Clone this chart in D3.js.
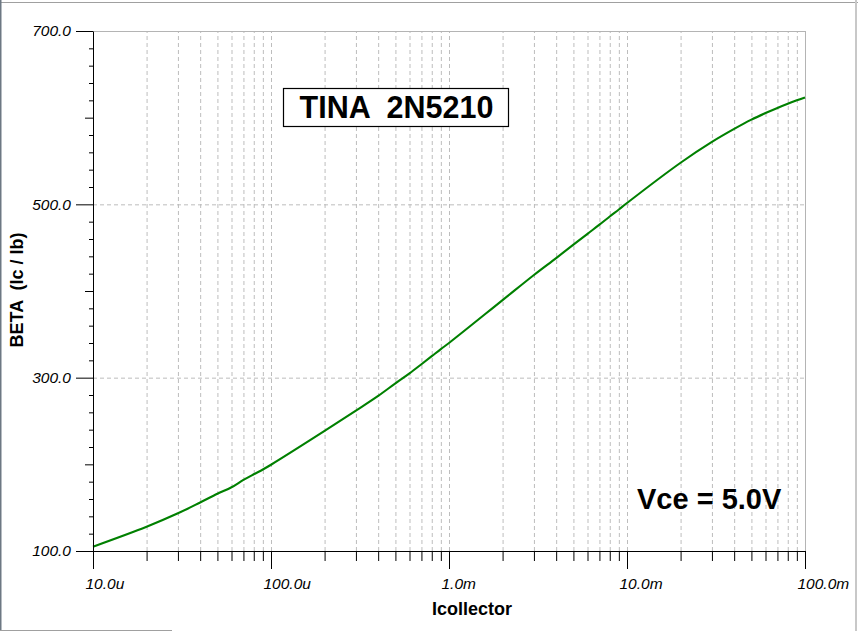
<!DOCTYPE html>
<html>
<head>
<meta charset="utf-8">
<script src="https://cdn.jsdelivr.net/npm/d3@7"></script>
<style>
  html, body { margin: 0; padding: 0; background: #fff; }
  svg { display: block; }
  text { font-family: Arial, "Liberation Sans", sans-serif; }
  .pre { white-space: pre; }
</style>
</head>
<body>
<svg id="chart" width="858" height="631"></svg>
<script>
// ---- data ----
const currents = [10e-6, 20e-6, 30e-6, 40e-6, 50e-6, 60e-6, 70e-6, 80e-6, 90e-6,
                  100e-6, 200e-6, 300e-6, 400e-6, 500e-6, 600e-6, 700e-6, 800e-6, 900e-6,
                  1e-3, 2e-3, 3e-3, 4e-3, 5e-3, 6e-3, 7e-3, 8e-3, 9e-3,
                  10e-3, 20e-3, 30e-3, 40e-3, 50e-3, 60e-3, 70e-3, 80e-3, 90e-3, 100e-3];
const beta = [105, 128, 143.5, 156, 166, 173.5, 182, 188.5, 194,
              199.5, 238.5, 262, 279, 293.5, 305, 315.5, 324.8, 333,
              340, 389.5, 418.5, 438, 453.5, 466, 476.5, 486, 494,
              501.5, 548, 572, 587, 597.7, 605.3, 611.2, 616, 620, 623.4];

const xMajorTicks = [1e-5, 1e-4, 1e-3, 1e-2, 1e-1];
const xTickLabels = ["10.0u", "100.0u", "1.0m", "10.0m", "100.0m"];
const yMajorTicks = [100, 300, 500, 700];
const yTickLabels = ["100.0", "300.0", "500.0", "700.0"];
const yMidTicks = [200, 400, 600];

const titleText = "TINA  2N5210";
const noteText = "Vce = 5.0V";
const xTitle = "Icollector";
const yTitle = "BETA  (Ic / Ib)";

// ---- derived tick sets ----
const xMinorTicks = [];
[1e-5, 1e-4, 1e-3, 1e-2].forEach(d => { for (let k = 2; k <= 9; k++) xMinorTicks.push(d * k); });
const yMinorTicks = d3.range(120, 700, 20).filter(v => !yMajorTicks.includes(v) && !yMidTicks.includes(v));
const xGridTicks = xMinorTicks.concat([1e-4, 1e-3, 1e-2]);
const yGridTicks = [300, 500];

// ---- layout ----
const L = 93, R = 805, T = 31, B = 551;
const svg = d3.select("#chart");

const x = d3.scaleLog().domain([1e-5, 1e-1]).range([L, R]);
const y = d3.scaleLinear().domain([100, 700]).range([B, T]);

// window frame
svg.append("rect").attr("x", 0).attr("y", 0).attr("width", 858).attr("height", 631).attr("fill", "#fff");
svg.append("line").attr("x1", 0).attr("x2", 858).attr("y1", 2.5).attr("y2", 2.5).attr("stroke", "#a0a0a0");
svg.append("line").attr("x1", 0.5).attr("x2", 0.5).attr("y1", 0).attr("y2", 631).attr("stroke", "#6d7883").attr("stroke-width", 2);
svg.append("line").attr("x1", 856).attr("x2", 856).attr("y1", 0).attr("y2", 631).attr("stroke", "#c8c8c8").attr("stroke-width", 2);
svg.append("line").attr("x1", 0).attr("x2", 172).attr("y1", 630.5).attr("y2", 630.5).attr("stroke", "#a0a0a0");

// grid
const gridStyle = g => g.selectAll("line").attr("stroke", "#bdbdbd").attr("stroke-dasharray", "4,3");
svg.append("g").attr("transform", `translate(0,${B})`)
  .call(d3.axisBottom(x).tickValues(xGridTicks).tickSize(-(B - T)).tickFormat(""))
  .call(g => g.select(".domain").remove())
  .call(gridStyle);
svg.append("g").attr("transform", `translate(${L},0)`)
  .call(d3.axisLeft(y).tickValues(yGridTicks).tickSize(-(R - L)).tickFormat(""))
  .call(g => g.select(".domain").remove())
  .call(gridStyle);

// top and right borders
svg.append("line").attr("x1", L).attr("x2", R + 0.5).attr("y1", T + 0.5).attr("y2", T + 0.5).attr("stroke", "#b4b4b4");
svg.append("line").attr("x1", R + 0.5).attr("x2", R + 0.5).attr("y1", T).attr("y2", B).attr("stroke", "#b4b4b4");

// curve
const line = d3.line().x((d, i) => x(currents[i])).y(d => y(d)).curve(d3.curveCatmullRom.alpha(0.5));
svg.append("path").datum(beta).attr("d", line)
  .attr("fill", "none").attr("stroke", "#008000").attr("stroke-width", 2.1);

// x axis
const blackTicks = g => { g.selectAll("line").attr("stroke", "#000"); g.selectAll(".domain").attr("stroke", "#000"); };
svg.append("g").attr("transform", `translate(0,${B})`)
  .call(d3.axisBottom(x).tickValues(xMinorTicks).tickSize(10).tickSizeOuter(0).tickFormat(""))
  .call(g => g.select(".domain").remove())
  .call(blackTicks);
const xAx = svg.append("g").attr("transform", `translate(0,${B})`)
  .call(d3.axisBottom(x).tickValues(xMajorTicks).tickSize(18).tickSizeOuter(0)
        .tickFormat((d, i) => xTickLabels[i]))
  .call(blackTicks);
xAx.selectAll("text")
  .attr("text-anchor", "start").attr("x", -8).attr("y", 38).attr("dy", null)
  .attr("font-size", 15.5).attr("font-style", "italic").attr("fill", "#000");

// y axis
svg.append("g").attr("transform", `translate(${L},0)`)
  .call(d3.axisLeft(y).tickValues(yMinorTicks).tickSize(4).tickSizeOuter(0).tickFormat(""))
  .call(g => g.select(".domain").remove())
  .call(blackTicks);
svg.append("g").attr("transform", `translate(${L},0)`)
  .call(d3.axisLeft(y).tickValues(yMidTicks).tickSize(8).tickSizeOuter(0).tickFormat(""))
  .call(g => g.select(".domain").remove())
  .call(blackTicks);
const yAx = svg.append("g").attr("transform", `translate(${L},0)`)
  .call(d3.axisLeft(y).tickValues(yMajorTicks).tickSize(17).tickSizeOuter(0).tickPadding(5)
        .tickFormat((d, i) => yTickLabels[i]))
  .call(blackTicks);
yAx.selectAll("text")
  .attr("font-size", 15.5).attr("font-style", "italic").attr("fill", "#000");

// axis titles
svg.append("text").attr("x", 472).attr("y", 615).attr("text-anchor", "middle")
  .attr("font-size", 18).attr("font-weight", "bold").attr("fill", "#000").text(xTitle);
svg.append("text").attr("class", "pre").attr("xml:space", "preserve")
  .attr("transform", "translate(23,290) rotate(-90)").attr("text-anchor", "middle")
  .attr("font-size", 18).attr("font-weight", "bold").attr("fill", "#000").text(yTitle);

// title box
svg.append("rect").attr("x", 283.5).attr("y", 88.5).attr("width", 225).attr("height", 38)
  .attr("fill", "#fff").attr("stroke", "#000").attr("stroke-width", 1.2);
svg.append("text").attr("class", "pre").attr("xml:space", "preserve")
  .attr("x", 396.5).attr("y", 117.5).attr("text-anchor", "middle")
  .attr("font-size", 30.5).attr("font-weight", "bold").attr("fill", "#000").text(titleText);

// note
svg.append("text").attr("x", 637).attr("y", 509).attr("text-anchor", "start")
  .attr("font-size", 29).attr("font-weight", "bold").attr("fill", "#000").text(noteText);
</script>
</body>
</html>
